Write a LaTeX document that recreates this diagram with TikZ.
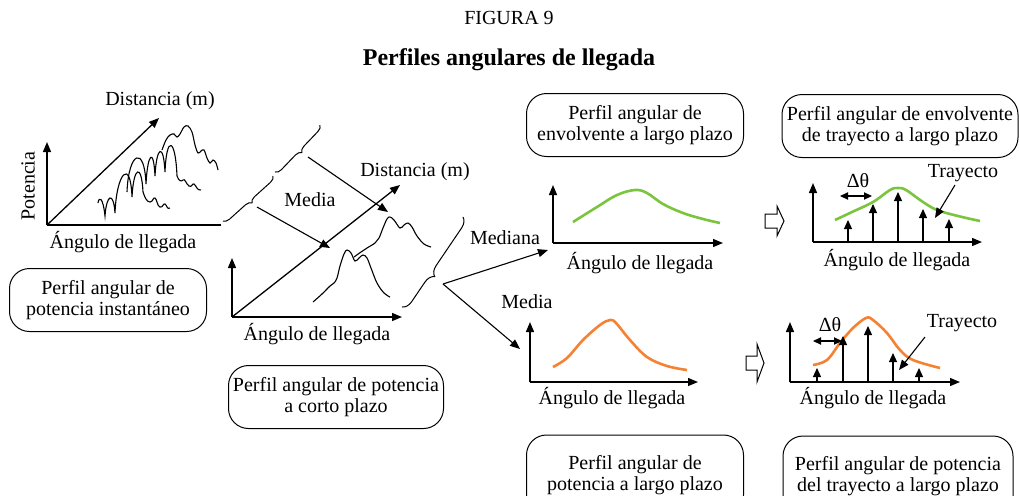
\documentclass[tikz,border=0pt]{standalone}
\usepackage{fontspec}
\setmainfont{Liberation Serif}
\usetikzlibrary{arrows.meta,decorations.pathreplacing}
\definecolor{cgreen}{RGB}{122,196,62}
\definecolor{corange}{RGB}{245,130,50}
\newcommand\archto[3]{.. controls +(1.5,-#3) and +(-1.5,-#3) .. (#1,#2)}
\begin{document}
\begin{tikzpicture}[x=0.5pt,y=-0.5pt,
  font=\fontsize{10}{10.5}\selectfont,
  lbl/.style={inner sep=0pt},
  ax/.style={line width=0.65pt,-{Triangle[length=5pt,width=4pt]}},
  axl/.style={line width=0.65pt},
  conn/.style={line width=0.55pt,-{Triangle[length=5pt,width=4pt]}},
  stem/.style={line width=0.6pt,-{Triangle[length=4.5pt,width=4pt]}},
  dbl/.style={line width=0.6pt,{Triangle[length=4pt,width=3.6pt]}-{Triangle[length=4pt,width=3.6pt]}},
  wig/.style={line width=0.55pt},
  gcurve/.style={cgreen,line width=1.3pt},
  ocurve/.style={corange,line width=1.3pt},
  rbox/.style={draw,line width=0.5pt,rounded corners=10pt,align=center,inner sep=0pt,minimum height=31.5pt},
  brc/.style={line width=0.5pt,decorate,decoration={brace,mirror,amplitude=3pt}},
  blockarrow/.style={draw,line width=0.5pt,fill=white}
]
\useasboundingbox (0,0) rectangle (1019,495);

% titles
\node[lbl] (fig) at (509,18) {FIGURA 9};
\node[lbl,font=\fontsize{12}{14}\selectfont\bfseries] (title) at (509,60) {Perfiles angulares de llegada};

% ---------- panel 1 ----------
\coordinate (o1) at (47,225);
\coordinate (v1) at (47,142);
\coordinate (h1) at (221,225);
\coordinate (d1) at (159,118);
\draw[ax] (o1) -- (v1);
\draw[axl] (o1) -- (h1);
\draw[ax] (o1) -- (d1);
\node[lbl] (dist1) at (160,101) {Distancia (m)};
\node[lbl,rotate=90] (pot) at (28,186) {Potencia};
\node[lbl] (ang1) at (123,242) {Ángulo de llegada};

\draw[wig] (98,203) .. controls (99,196) and (103,197) .. (105,216)
  \archto{115}{213}{22}
  \archto{132}{197}{40}
  \archto{143}{192}{30}
  .. controls (145,198) and (147,202) .. (150,202)
  .. controls (153,202) and (153,197) .. (155,198)
  .. controls (157,199) and (157,206) .. (160,207)
  .. controls (163,208) and (163,203) .. (165,204)
  .. controls (167,205) and (167,210) .. (170,208);
\draw[wig] (127,192) \archto{146}{184}{40} \archto{155}{176}{30} \archto{165}{172}{30} \archto{177}{176}{38}
  .. controls (179,181) and (181,182) .. (183,180)
  .. controls (185,178) and (186,184) .. (189,186)
  .. controls (192,188) and (192,183) .. (194,184)
  .. controls (196,185) and (197,191) .. (201,190);
\draw[wig] plot[smooth,tension=0.6] coordinates {(162,150) (166,140) (170,135) (174,134) (177,137) (180,134) (184,127) (188,126) (192,132) (195,145) (198,153) (201,151) (204,150) (207,158) (210,163) (213,160) (216,163) (218,170)};

\node[rbox,minimum width=98.5pt] (b1) at (108,300) {Perfil angular de\\potencia instantáneo};

% ---------- braces ----------
\draw[brc] (223,221) -- (273,176);
\draw[brc] (275,172) -- (320,125);
\draw[line width=0.5pt,decorate,decoration={brace,mirror,amplitude=5pt,aspect=0.4}] (402,307) -- (463,217);
\coordinate (t1) at (257,207);
\coordinate (t2) at (308,157);
\coordinate (t3) at (443,284);
\node[lbl] (media1) at (310,200) {Media};

% ---------- panel 2 ----------
\coordinate (o2) at (232,317);
\coordinate (v2) at (232,258);
\coordinate (h2) at (402,317);
\coordinate (d2) at (400,185);
\draw[ax] (o2) -- (v2);
\draw[ax] (o2) -- (h2);
\draw[ax] (o2) -- (d2);
\node[lbl] (dist2) at (415,172) {Distancia (m)};
\node[lbl] (ang2) at (317,334) {Ángulo de llegada};
\draw[wig] plot[smooth,tension=0.6] coordinates {(313,302) (322,294) (330,286) (334,283) (337,278) (340,266) (344,254) (347,250) (351,253) (355,261) (359,258) (363,255) (367,258) (371,268) (377,283) (384,293) (390,297)};
\draw[wig] plot[smooth,tension=0.6] coordinates {(354,257) (361,252) (367,248) (375,243) (379,238) (383,228) (387,219) (390,217) (394,220) (400,228) (404,225) (408,223) (412,227) (417,236) (424,244) (431,247)};

\coordinate (e1) at (330,248);
\coordinate (e2) at (388,212);
\draw[conn] (t1) -- (e1);
\draw[conn] (t2) -- (e2);

\node[rbox,minimum width=107.5pt] (b2) at (336,397) {Perfil angular de potencia\\a corto plazo};

% ---------- connectors from brace 3 ----------
\coordinate (e3) at (548,250);
\coordinate (e4) at (520,349);
\draw[conn] (t3) -- (e3);
\draw[conn] (t3) -- (e4);
\node[lbl] (mediana) at (505,238) {Mediana};
\node[lbl] (media2) at (527,302) {Media};

% ---------- panel 3 (green) ----------
\coordinate (o3) at (553,243);
\draw[ax] (o3) -- (553,185);
\draw[ax] (o3) -- (723,243);
\draw[gcurve] plot[smooth,tension=0.6] coordinates {(573,222) (597,207) (617,195) (635,190) (647,193) (663,204) (683,213) (703,219) (720,223)};
\node[lbl] (ang3) at (640,263) {Ángulo de llegada};
\node[rbox,minimum width=108.5pt] (b3) at (635,125) {Perfil angular de\\envolvente a largo plazo};

% ---------- panel 4 (orange) ----------
\coordinate (o4) at (530,382);
\draw[ax] (o4) -- (530,322);
\draw[ax] (o4) -- (698,382);
\draw[ocurve] plot[smooth,tension=0.6] coordinates {(553,367) (567,358) (583,340) (600,325) (610,320) (616,323) (630,340) (647,357) (667,366) (687,370)};
\node[lbl] (ang4) at (612,398) {Ángulo de llegada};
\node[rbox,minimum width=108.5pt,minimum height=40pt] (b5) at (635,475) {Perfil angular de\\potencia a largo plazo};

% ---------- block arrows ----------
\draw[blockarrow] (765,214) -- (777,214) -- (777,206) -- (784,221) -- (777,236) -- (777,228) -- (765,228) -- cycle;
\draw[blockarrow] (746,356) -- (757,356) -- (757,344) -- (764,363) -- (757,382) -- (757,370) -- (746,370) -- cycle;

% ---------- panel 5 (green paths) ----------
\coordinate (o5) at (813,242);
\draw[ax] (o5) -- (813,183);
\draw[ax] (o5) -- (982,242);
\draw[gcurve] plot[smooth,tension=0.6] coordinates {(835,220) (852,212) (873,202) (890,190) (898,188) (906,190) (923,202) (937,210) (958,216) (980,221)};
\foreach \x/\t in {848/220, 873/204, 898/192, 923/209, 949/219}
  \draw[stem] (\x,242) -- (\x,\t);
\draw[dbl] (840,196) -- (872,196);
\node[lbl] (dt5) at (858,181) {Δθ};
\node[lbl] (tr5) at (963,173) {Trayecto};
\coordinate (p5) at (955,185);
\coordinate (q5) at (935,218);
\draw[conn] (p5) -- (q5);
\node[lbl] (ang5) at (897,260) {Ángulo de llegada};
\node[rbox,minimum width=118pt] (b4) at (900,126) {Perfil angular de envolvente\\de trayecto a largo plazo};

% ---------- panel 6 (orange paths) ----------
\coordinate (o6) at (790,382);
\draw[ax] (o6) -- (790,322);
\draw[ax] (o6) -- (960,382);
\draw[ocurve] plot[smooth,tension=0.6] coordinates {(813,365) (827,360) (840,343) (853,328) (866,318) (873,320) (887,333) (900,350) (913,360) (940,368)};
\foreach \x/\t in {817/368, 843/336, 868/326, 893/353, 919/368}
  \draw[stem] (\x,382) -- (\x,\t);
\draw[dbl] (813,341) -- (842,341);
\node[lbl] (dt6) at (830,325) {Δθ};
\node[lbl] (tr6) at (962,323) {Trayecto};
\coordinate (p6) at (925,337);
\coordinate (q6) at (899,370);
\draw[conn] (p6) -- (q6);
\node[lbl] (ang6) at (873,398) {Ángulo de llegada};
\node[rbox,minimum width=115pt,minimum height=40pt] (b6) at (898,476) {Perfil angular de potencia\\del trayecto a largo plazo};
\end{tikzpicture}
\end{document}
